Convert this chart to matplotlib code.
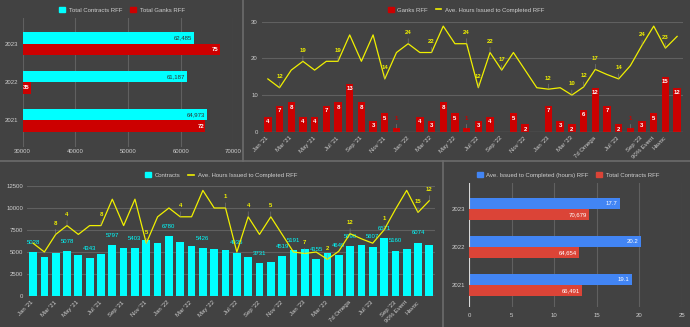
import matplotlib
matplotlib.use("Agg")
import matplotlib.pyplot as plt
from matplotlib.lines import Line2D
from matplotlib.patches import Patch
import numpy as np

plt.rcParams["font.family"] = ["Liberation Sans", "DejaVu Sans"]

# ---- data -----------------------------------------------------------------
months = [
    "Jan '21", "Feb '21", "Mar '21", "Apr '21", "May '21", "Jun '21",
    "Jul '21", "Aug '21", "Sep '21", "Oct '21", "Nov '21", "Dec '21",
    "Jan '22", "Feb '22", "Mar '22", "Apr '22", "May '22", "Jun '22",
    "Jul '22", "Aug '22", "Sep '22", "Oct '22", "Nov '22", "Dec '22",
    "Jan '23", "Feb '23", "Mar '23", "Apr '23", "7d Omega", "Jun '23",
    "Jul '23", "Aug '23", "Sep '23", "90% Event", "Havoc", "Dec '23",
]
shown_ticks = [0, 2, 4, 6, 8, 10, 12, 14, 16, 18, 20, 22, 24, 26, 28, 30, 32, 33, 34]

ganks = [4, 7, 8, 4, 4, 7, 8, 13, 8, 3, 5, 1,
         0, 4, 3, 8, 5, 1, 3, 4, 0, 5, 2, 0,
         7, 3, 2, 6, 12, 7, 2, 1, 3, 5, 15, 12]
hours = [14.4, 12, 16.8, 19.2, 16.8, 19.2, 19.2, 26.4, 19.2, 26.4, 14.4, 21.6,
         24, 21.6, 21.6, 28.8, 24, 24, 12, 21.6, 16.8, 21.6, 16.8, 12,
         11.6, 12, 10, 12.2, 17, 15.6, 14.4, 18, 23.6, 28.8, 22.8, 26]
contracts = [5028, 4450, 4870, 5078, 4640, 4343, 4760, 5797, 5510, 5403, 6350, 5970,
             6780, 6080, 5670, 5426, 5290, 5250, 4935, 4380, 3731, 3810, 4519, 5191,
             5290, 4155, 4830, 4649, 5690, 5850, 5607, 6571, 5160, 5320, 6074, 5740]

hours_labels_top = [1, 3, 6, 10, 12, 14, 17, 18, 19, 20, 24, 26, 27, 28, 30, 32, 34]
gank_labels_bottom = [2, 3, 6, 10, 13, 17, 19, 21, 24, 26, 28, 31, 34, 35]
contract_labels_bottom = [0, 3, 5, 7, 9, 12, 15, 18, 20, 22, 23, 25, 27, 28, 30, 31, 32, 34]

years = ["2021", "2022", "2023"]
total_contracts = [64973, 61187, 62485]
total_ganks = [72, 35, 75]
avg_hours_year = [19.1, 20.2, 17.7]
rff_contracts_year = [66491, 64654, 70679]

# ---- style ----------------------------------------------------------------
BG = "#424242"
GRID = "#606060"
BASE = "#a8a8a8"
TEXT = "#cfcfcf"
CYAN = "#00ffff"
GANK = "#cc0000"
YEL = "#f0f000"
BLUE = "#4285f4"
RED2 = "#db4437"
FS = 4.3


def style(ax):
    ax.set_facecolor(BG)
    for s in ax.spines.values():
        s.set_visible(False)
    ax.tick_params(length=0, labelcolor=TEXT, labelsize=FS)
    ax.set_axisbelow(True)


def month_ticks(ax):
    ax.set_xlim(-0.5, len(months) - 0.5)
    ax.set_xticks(shown_ticks)
    ax.set_xticklabels([months[i] for i in shown_ticks], rotation=45, ha="right",
                       va="center", rotation_mode="anchor")
    ax.tick_params(axis="x", pad=4)


def stem_label(ax, x, y, text, color, dy=8):
    ax.annotate(text, (x, y), xytext=(0, dy), textcoords="offset points",
                ha="center", va="center", fontsize=FS, fontweight="bold", color=color,
                arrowprops=dict(arrowstyle="-", color="#8a8a8a", lw=0.35,
                                shrinkA=0.5, shrinkB=0))


def add_legend(handles, cx, cy):
    fig.legend(handles=handles, loc="center", bbox_to_anchor=(cx / 690, 1 - cy / 327),
               ncol=2, frameon=False, fontsize=FS, labelcolor=TEXT, handlelength=1.0,
               handleheight=1.0, handletextpad=0.6, columnspacing=1.3)


fig = plt.figure(figsize=(6.9, 3.27), dpi=100, facecolor=BG)

# ---- top left: yearly contracts / ganks -----------------------------------
y = np.arange(len(years))
h = 0.3
ax1 = fig.add_axes([0.0329, 0.5514, 0.3052, 0.3927])
style(ax1)
ax1.barh(y + h / 2, total_contracts, height=h, color=CYAN)
ax1.set_xlim(30000, 70000)
ax1.set_xticks(range(30000, 70001, 10000))
ax1.set_yticks(y)
ax1.set_yticklabels(years)
ax1.set_ylim(-0.69, 2.67)
ax1.grid(axis="x", color=GRID, lw=0.8)
ax1.tick_params(axis="x", pad=2)
ax1.tick_params(axis="y", pad=3)
for yi, v in zip(y, total_contracts):
    ax1.annotate(f"{v:,}", (v, yi + h / 2), xytext=(-1, 0), textcoords="offset points",
                 ha="right", va="center", fontsize=FS, color="#303030")
ax1b = ax1.twiny()
ax1b.set_xlim(33.2, 77.9)
ax1b.barh(y - h / 2, total_ganks, height=h, color=GANK)
ax1b.set_xticks([])
for s in ax1b.spines.values():
    s.set_visible(False)
for yi, v in zip(y, total_ganks):
    ax1b.annotate(str(v), (v, yi - h / 2), xytext=(-1, 0), textcoords="offset points",
                  ha="right", va="center", fontsize=FS, fontweight="bold", color="white")
add_legend([Patch(color=CYAN, label="Total Contracts RFF"),
            Patch(color=GANK, label="Total Ganks RFF")], 122, 10)

# ---- top right: monthly ganks + hours -------------------------------------
x = np.arange(len(months))
ax2 = fig.add_axes([0.3797, 0.5972, 0.6101, 0.3364])
style(ax2)
ax2.bar(x, ganks, width=0.63, color=GANK)
ax2.plot(x, hours, color=YEL, lw=0.9)
ax2.set_ylim(0, 30)
ax2.set_yticks([0, 10, 20, 30])
ax2.grid(axis="y", color=GRID, lw=0.8)
ax2.axhline(0, color=BASE, lw=0.8)
ax2.tick_params(axis="y", pad=3)
month_ticks(ax2)
for xi, v in zip(x, ganks):
    if v >= 2:
        ax2.annotate(str(v), (xi, v), xytext=(0, -1.6), textcoords="offset points",
                     ha="center", va="top", fontsize=FS, fontweight="bold", color="white")
    elif v == 1:
        stem_label(ax2, xi, v, "1", GANK, dy=7)
for i in hours_labels_top:
    stem_label(ax2, i, hours[i], f"{round(hours[i])}", YEL)
add_legend([Patch(color=GANK, label="Ganks RFF"),
            Line2D([], [], color=YEL, lw=1.2, label="Ave. Hours Issued to Completed RFF")],
           466, 10)

# ---- bottom left: monthly contracts + hours -------------------------------
ax3 = fig.add_axes([0.0397, 0.0948, 0.5907, 0.3364])
style(ax3)
ax3.bar(x, contracts, width=0.68, color=CYAN)
ax3.set_ylim(0, 12500)
ax3.set_yticks(range(0, 12501, 2500))
ax3.grid(axis="y", color=GRID, lw=0.8)
ax3.axhline(0, color=BASE, lw=0.8)
ax3.tick_params(axis="y", pad=3)
month_ticks(ax3)
for i in contract_labels_bottom:
    ax3.annotate(str(contracts[i]), (i, contracts[i]), xytext=(0, 7),
                 textcoords="offset points", ha="center", va="center",
                 fontsize=FS, color=CYAN)
ax3b = ax3.twinx()
ax3b.plot(x, hours, color=YEL, lw=0.9)
ax3b.set_ylim(0, 30)
ax3b.set_yticks([])
for s in ax3b.spines.values():
    s.set_visible(False)
for i in gank_labels_bottom:
    stem_label(ax3b, i, hours[i], str(ganks[i]), YEL)
add_legend([Patch(color=CYAN, label="Contracts"),
            Line2D([], [], color=YEL, lw=1.2, label="Ave. Hours Issued to Completed RFF")],
           221, 175)

# ---- bottom right: yearly averages ----------------------------------------
h4 = 0.29
ax4 = fig.add_axes([0.6797, 0.0612, 0.3083, 0.3792])
style(ax4)
ax4.barh(y + h4 / 2, avg_hours_year, height=h4, color=BLUE)
ax4.set_xlim(0, 25)
ax4.set_xticks(range(0, 26, 5))
ax4.set_yticks(y)
ax4.set_yticklabels(years)
ax4.set_ylim(-0.58, 2.69)
ax4.grid(axis="x", color=GRID, lw=0.8)
ax4.axvline(0, color="#d8d8d8", lw=0.8)
ax4.tick_params(axis="x", pad=4.5)
ax4.tick_params(axis="y", pad=3)
for yi, v in zip(y, avg_hours_year):
    ax4.annotate(f"{v}", (v, yi + h4 / 2), xytext=(-1.5, 0), textcoords="offset points",
                 ha="right", va="center", fontsize=FS, color="white")
ax4b = ax4.twiny()
ax4b.set_xlim(0, 125000)
ax4b.barh(y - h4 / 2, rff_contracts_year, height=h4, color=RED2)
ax4b.set_xticks([])
for s in ax4b.spines.values():
    s.set_visible(False)
for yi, v in zip(y, rff_contracts_year):
    ax4b.annotate(f"{v:,}", (v, yi - h4 / 2), xytext=(-1.5, 0), textcoords="offset points",
                  ha="right", va="center", fontsize=FS, color="white")
add_legend([Patch(color=BLUE, label="Ave. Issued to Completed (hours) RFF"),
            Patch(color=RED2, label="Total Contracts RFF")], 568, 175)

# ---- panel separators -----------------------------------------------------
sep = "#6c6c6c"
fig.add_artist(Line2D([243 / 690, 243 / 690], [1 - 161 / 327, 1], color=sep, lw=1.2))
fig.add_artist(Line2D([0, 1], [1 - 161 / 327, 1 - 161 / 327], color=sep, lw=1.2))
fig.add_artist(Line2D([443 / 690, 443 / 690], [0, 1 - 161 / 327], color=sep, lw=1.2))

fig.savefig("out.png", dpi=100, facecolor=BG)
